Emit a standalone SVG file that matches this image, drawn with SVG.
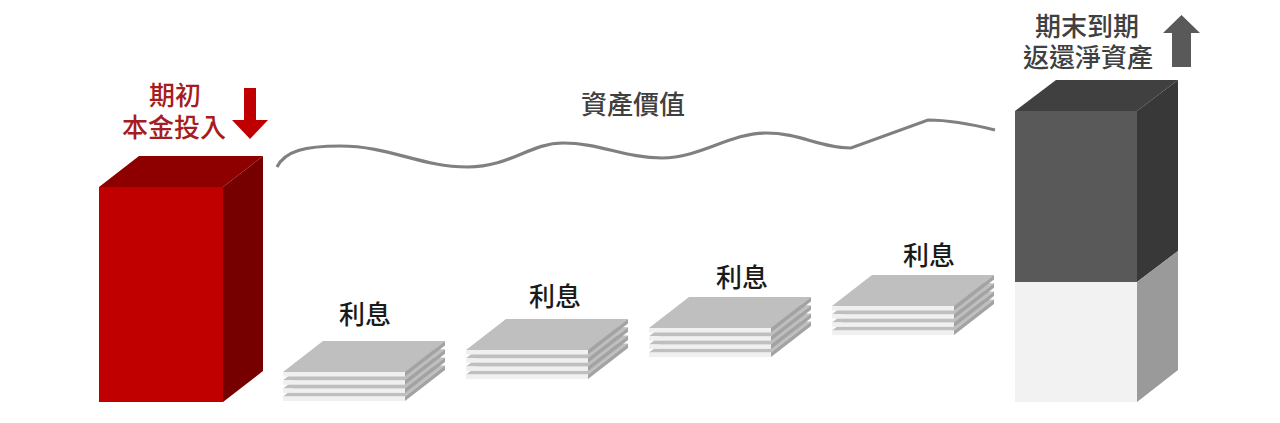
<svg xmlns="http://www.w3.org/2000/svg" xmlns:xlink="http://www.w3.org/1999/xlink" width="1280" height="423" viewBox="0 0 1280 423">
<style>
.cjk{font-family:"Noto Sans CJK TC","Noto Sans CJK SC",sans-serif;font-size:26px;font-weight:500;text-anchor:middle}
.red{fill:#A51D21}
.dark{fill:#404040}
.blk{fill:#1A1A1A}
.ptop{fill:#BFBFBF}
.pfront{fill:#F0F0F0}
.pside{fill:#A3A3A3}
</style>
<defs>
<g id="plate">
<polygon class="ptop" points="0,0 40,-31 162,-31 122,0"/>
<rect class="pfront" x="0" y="0" width="122" height="4.5"/>
<polygon class="pside" points="122,0 162,-31 162,-26.5 122,4.5"/>
</g>
<g id="stack">
<use xlink:href="#plate" y="24.6"/>
<use xlink:href="#plate" y="16.4"/>
<use xlink:href="#plate" y="8.2"/>
<use xlink:href="#plate" y="0"/>
</g>
</defs>
<rect width="1280" height="423" fill="#FFFFFF"/>

<g id="principal">
<polygon points="99,187 139,156 263,156 223,187" fill="#8E0000"/>
<polygon points="223,187 263,156 263,371 223,402" fill="#760000"/>
<rect x="99" y="187" width="124" height="215" fill="#C00000"/>
<text class="cjk red" x="175" y="105">期初</text>
<text class="cjk red" x="174" y="137">本金投入</text>
<polygon points="244,88 256,88 256,120 268,120 250,139 232,120 244,120" fill="#C00000"/>
</g>

<g id="asset-value">
<text class="cjk dark" x="633" y="114">資產價值</text>
</g>

<g id="connectors">
<path d="M277,167 C285,151 305,146 340,146 C390,146 420,167 468,167 C510,167 530,143 563,143 C600,143 625,158 662,158 C700,158 730,133 766,133 C800,133 820,148 851,148 L928,120 C950,120 975,125 995,130" fill="none" stroke="#808080" stroke-width="3.2"/>
</g>

<g id="interest1">
<use xlink:href="#stack" x="283" y="372"/>
<text class="cjk blk" x="365" y="324">利息</text>
</g>
<g id="interest2">
<use xlink:href="#stack" x="466" y="350"/>
<text class="cjk blk" x="555" y="306">利息</text>
</g>
<g id="interest3">
<use xlink:href="#stack" x="649" y="328"/>
<text class="cjk blk" x="742" y="287">利息</text>
</g>
<g id="interest4">
<use xlink:href="#stack" x="832" y="306"/>
<text class="cjk blk" x="929" y="265">利息</text>
</g>

<g id="maturity">
<polygon points="1015,111 1056,80 1178,80 1137,111" fill="#404040"/>
<polygon points="1137,111 1178,80 1178,251 1137,282" fill="#383838"/>
<polygon points="1137,282 1178,251 1178,370 1137,402" fill="#9A9A9A"/>
<rect x="1015" y="111" width="122" height="171" fill="#595959"/>
<rect x="1015" y="282" width="122" height="120" fill="#F2F2F2"/>
<text class="cjk dark" x="1087" y="36">期末到期</text>
<text class="cjk dark" x="1088" y="67">返還淨資產</text>
<polygon points="1172,67 1191,67 1191,33 1200,33 1181.5,15 1163,33 1172,33" fill="#595959"/>
</g>
</svg>
